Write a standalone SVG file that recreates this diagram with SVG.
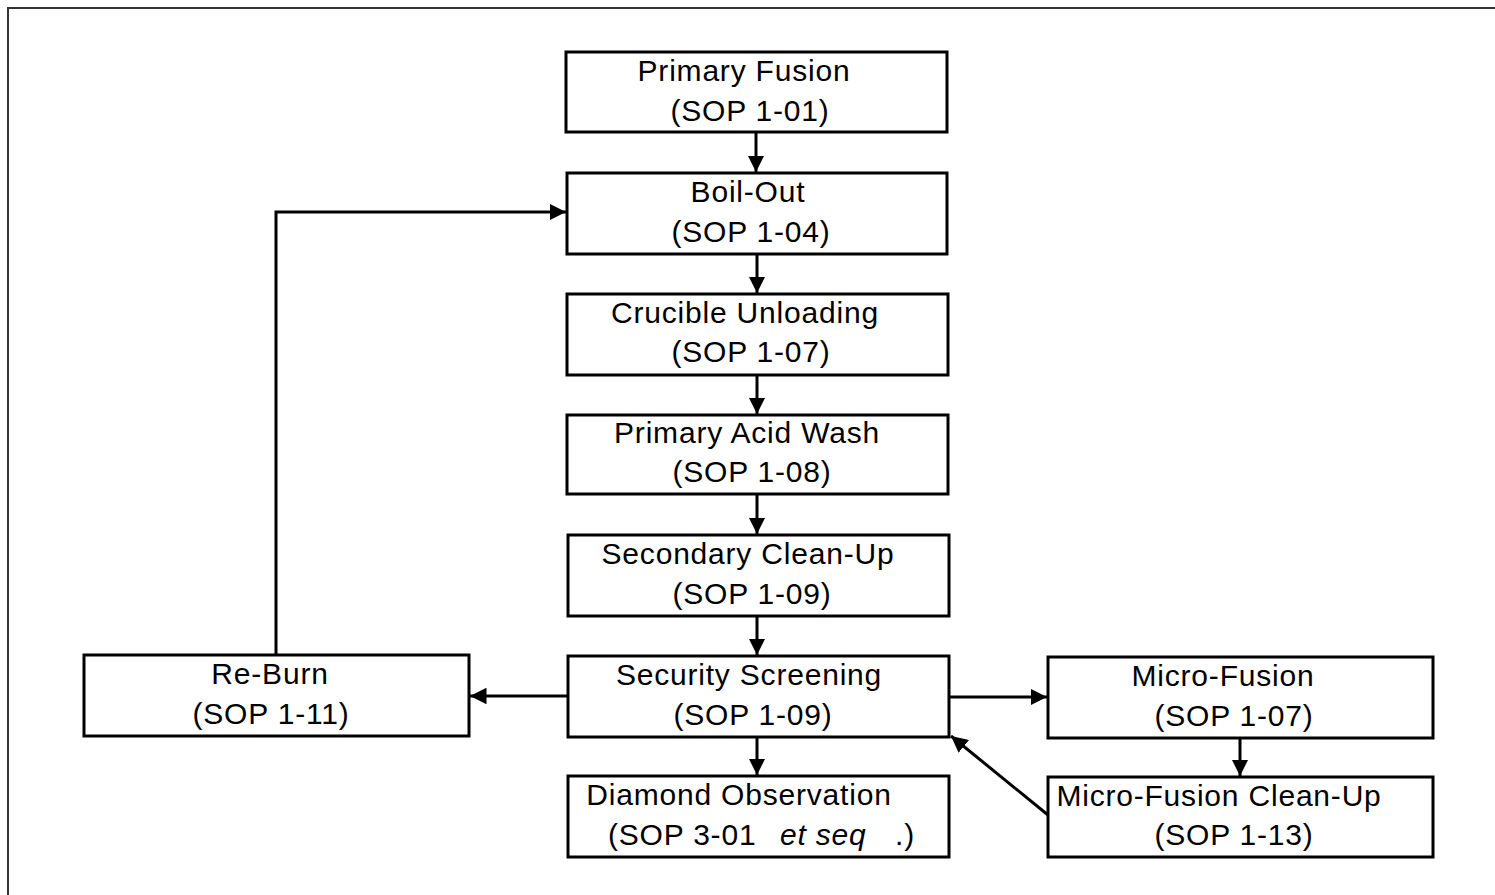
<svg xmlns="http://www.w3.org/2000/svg" width="1495" height="895" viewBox="0 0 1495 895">
<style>
.box{fill:#fff;stroke:#000;stroke-width:3}
.t{font-family:"Liberation Sans",Arial,sans-serif;font-size:30px;letter-spacing:0.8px;fill:#000;text-anchor:middle}
.c{fill:none;stroke:#000;stroke-width:3}
</style>
<defs>
<marker id="ah" viewBox="0 0 10 10" refX="10" refY="5" markerWidth="5.5" markerHeight="5.5" orient="auto" markerUnits="strokeWidth">
<path d="M0,0 L10,5 L0,10 z" fill="#000"/>
</marker>
</defs>
<rect width="1495" height="895" fill="#fff"/>
<path d="M8,895 V8 H1495" fill="none" stroke="#333" stroke-width="2"/>
<g id="connectors">
<line class="c" x1="756" y1="132" x2="756" y2="172" marker-end="url(#ah)"/>
<line class="c" x1="757" y1="254" x2="757" y2="293" marker-end="url(#ah)"/>
<line class="c" x1="757" y1="375" x2="757" y2="414" marker-end="url(#ah)"/>
<line class="c" x1="757" y1="494" x2="757" y2="534" marker-end="url(#ah)"/>
<line class="c" x1="757" y1="616" x2="757" y2="655" marker-end="url(#ah)"/>
<line class="c" x1="757" y1="737" x2="757" y2="775" marker-end="url(#ah)"/>
<polyline class="c" points="276,655 276,212 566,212" marker-end="url(#ah)"/>
<line class="c" x1="568" y1="696" x2="470" y2="696" marker-end="url(#ah)"/>
<line class="c" x1="949" y1="697" x2="1047" y2="697" marker-end="url(#ah)"/>
<line class="c" x1="1240" y1="738" x2="1240" y2="776" marker-end="url(#ah)"/>
<line class="c" x1="1048" y1="815" x2="951" y2="736" marker-end="url(#ah)"/>
</g>
<g id="n1"><rect class="box" x="566" y="52" width="381" height="80"/><text class="t" x="744" y="81">Primary Fusion</text><text class="t" x="750" y="121">(SOP 1-01)</text></g>
<g id="n2"><rect class="box" x="567" y="173" width="380" height="81"/><text class="t" x="748" y="202">Boil-Out</text><text class="t" x="751" y="242">(SOP 1-04)</text></g>
<g id="n3"><rect class="box" x="567" y="294" width="381" height="81"/><text class="t" x="745" y="323">Crucible Unloading</text><text class="t" x="751" y="362">(SOP 1-07)</text></g>
<g id="n4"><rect class="box" x="567" y="415" width="381" height="79"/><text class="t" x="747" y="443">Primary Acid Wash</text><text class="t" x="752" y="482">(SOP 1-08)</text></g>
<g id="n5"><rect class="box" x="568" y="535" width="381" height="81"/><text class="t" x="748" y="564">Secondary Clean-Up</text><text class="t" x="752" y="604">(SOP 1-09)</text></g>
<g id="n6"><rect class="box" x="568" y="656" width="381" height="81"/><text class="t" x="749" y="685">Security Screening</text><text class="t" x="753" y="725">(SOP 1-09)</text></g>
<g id="n7"><rect class="box" x="568" y="776" width="381" height="81"/><text class="t" x="739" y="805">Diamond Observation</text><text class="t" x="608" y="845" style="text-anchor:start">(SOP 3-01<tspan x="780" font-style="italic">et seq</tspan><tspan x="895">.)</tspan></text></g>
<g id="n8"><rect class="box" x="84" y="655" width="385" height="81"/><text class="t" x="270" y="684">Re-Burn</text><text class="t" x="271" y="724">(SOP 1-11)</text></g>
<g id="n9"><rect class="box" x="1048" y="657" width="385" height="81"/><text class="t" x="1223" y="686">Micro-Fusion</text><text class="t" x="1234" y="726">(SOP 1-07)</text></g>
<g id="n10"><rect class="box" x="1048" y="777" width="385" height="80"/><text class="t" x="1219" y="806">Micro-Fusion Clean-Up</text><text class="t" x="1234" y="845">(SOP 1-13)</text></g>
</svg>
